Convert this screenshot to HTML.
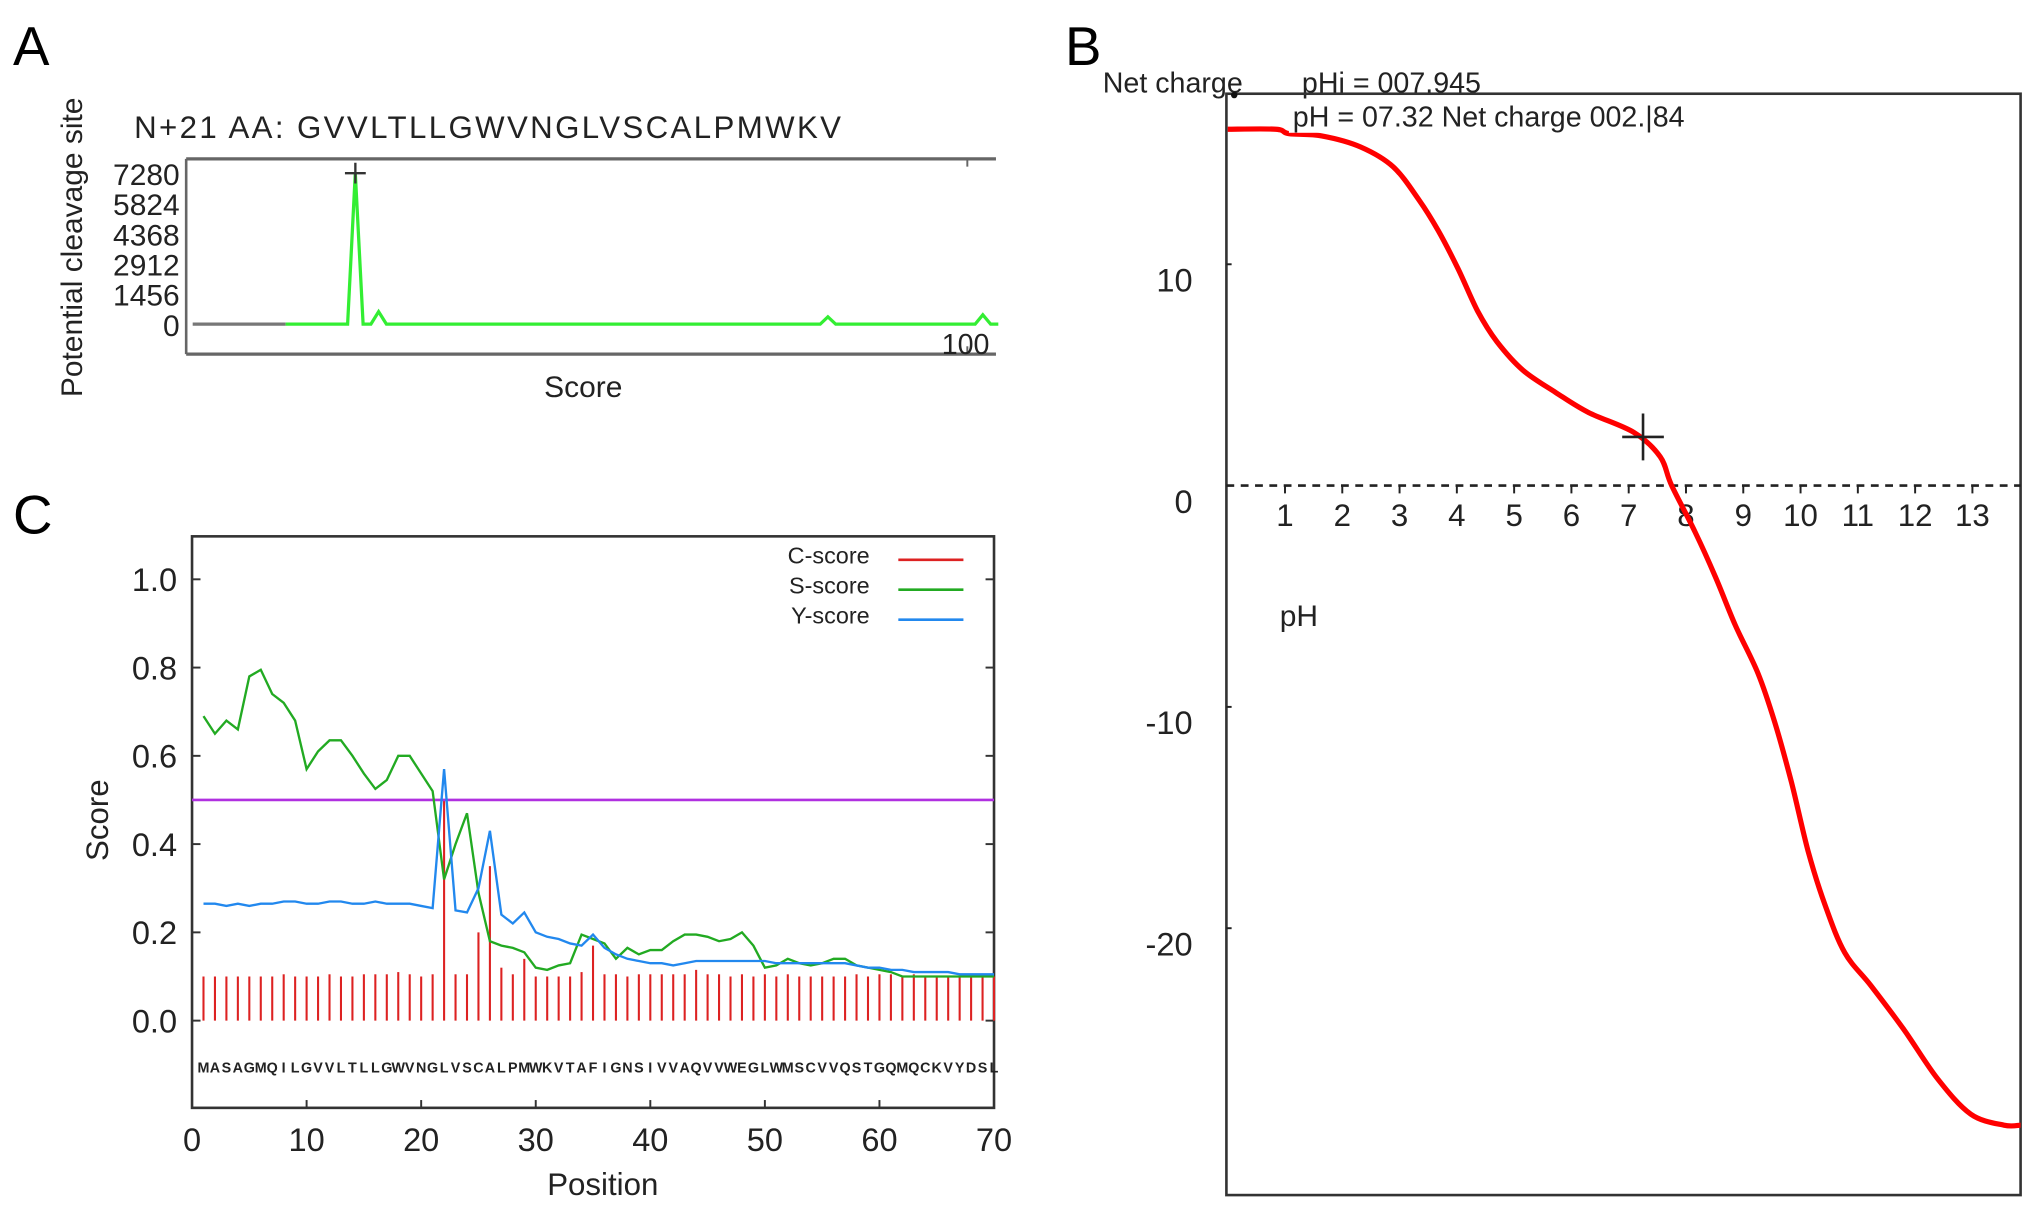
<!DOCTYPE html>
<html><head><meta charset="utf-8"><style>
html,body{margin:0;padding:0;background:#fff;}
svg{display:block;font-family:"Liberation Sans",Arial,sans-serif;}
</style></head><body>
<svg id="fig" width="2031" height="1212" viewBox="0 0 1560 931" preserveAspectRatio="none" xmlns="http://www.w3.org/2000/svg">
<rect x="0" y="0" width="1560" height="931" fill="#fff"/>
<g>
<text x="10" y="50" font-size="42">A</text>
<text x="103" y="106" font-size="24" fill="#222" textLength="543">N+21 AA: GVVLTLLGWVNGLVSCALPMWKV</text>
<text transform="translate(63,190) rotate(-90)" text-anchor="middle" font-size="23" fill="#222">Potential cleavage site</text>
<text x="448" y="305" text-anchor="middle" font-size="23" fill="#222">Score</text>
<line x1="143" y1="122" x2="765" y2="122" stroke="#666" stroke-width="2.5"/>
<line x1="143" y1="272" x2="765" y2="272" stroke="#666" stroke-width="2.5"/>
<line x1="143" y1="122" x2="143" y2="272" stroke="#666" stroke-width="2"/>
<line x1="743" y1="122" x2="743" y2="128" stroke="#666" stroke-width="1.5"/>
<line x1="743" y1="266" x2="743" y2="272" stroke="#666" stroke-width="1.5"/>
<text x="760" y="272" text-anchor="end" font-size="22" fill="#222">100</text>
<g id="aG"></g>
</g>
<g>
<text x="818" y="50" font-size="42">B</text>
<text x="847" y="71" font-size="22" fill="#222">Net charge</text>
<text x="1000" y="71" font-size="22" fill="#222">pHi = 007.945</text>
<rect x="942" y="72" width="610" height="846" fill="none" stroke="#333" stroke-width="2"/>
<circle cx="948" cy="73" r="2.5" fill="#111"/>
<g id="bG"></g>
<rect x="990" y="76" width="370" height="26" fill="#fff"/>
<text x="993" y="97" font-size="22" fill="#222">pH = 07.32  Net charge 002.|84</text>
<text x="983" y="481" font-size="23" fill="#222">pH</text>
</g>
<g>
<text x="10" y="410" font-size="42">C</text>
<rect x="147.5" y="412" width="616" height="439" fill="none" stroke="#333" stroke-width="2"/>
<text transform="translate(83,630) rotate(-90)" text-anchor="middle" font-size="24" fill="#222">Score</text>
<text x="463" y="918" text-anchor="middle" font-size="24" fill="#222">Position</text>
<g id="cG"></g>
</g>
</svg>
<script>
const aPositions = [12,20,21,22,23,24,25,81,82,83,101,102,103,104];
const aScores = [0,0,7280,0,0,600,0,0,350,0,0,450,0,0];
const aTickLabels = [7280,5824,4368,2912,1456,0];
const aPeakPos = [21];
const aPeakVal = [7280];
const bPH = [0,0.84,1.07,1.64,2.32,2.89,3.34,3.68,4.02,4.36,4.7,5.16,5.73,6.3,7.09,7.55,7.75,8.16,8.51,8.86,9.26,9.55,9.84,10.13,10.42,10.77,11.23,11.81,12.39,12.97,13.55,13.84];
const bCharge = [16.1,16.1,15.9,15.8,15.3,14.4,12.9,11.5,9.8,7.9,6.5,5.2,4.2,3.3,2.4,1.3,0,-2.1,-4.1,-6.3,-8.5,-10.7,-13.4,-16.5,-18.9,-21.1,-22.6,-24.6,-26.8,-28.4,-28.9,-28.9];
const bYTicks = [10,0,-10,-20];
const bXTicks = [1,2,3,4,5,6,7,8,9,10,11,12,13];
const bMarkerPH = [7.25];
const bMarkerCharge = [2.2];
const cSequence = "MASAGMQILGVVLTLLGWVNGLVSCALPMWKVTAFIGNSIVVAQVVWEGLWMSCVVQSTGQMQCKVYDSL";
const cScore = [0.10,0.10,0.10,0.10,0.10,0.10,0.10,0.105,0.10,0.10,0.10,0.105,0.10,0.10,0.105,0.105,0.105,0.11,0.105,0.10,0.105,0.50,0.105,0.105,0.20,0.35,0.12,0.105,0.14,0.10,0.10,0.10,0.10,0.11,0.17,0.105,0.105,0.10,0.105,0.105,0.105,0.105,0.105,0.115,0.105,0.105,0.10,0.105,0.10,0.105,0.10,0.105,0.10,0.10,0.10,0.10,0.10,0.105,0.10,0.105,0.105,0.10,0.105,0.10,0.10,0.10,0.10,0.10,0.10,0.10];
const sScore = [0.69,0.65,0.68,0.66,0.78,0.795,0.74,0.72,0.68,0.57,0.61,0.635,0.635,0.60,0.56,0.525,0.545,0.60,0.60,0.56,0.52,0.32,0.40,0.47,0.29,0.18,0.17,0.165,0.155,0.12,0.115,0.125,0.13,0.195,0.185,0.175,0.14,0.165,0.15,0.16,0.16,0.18,0.195,0.195,0.19,0.18,0.185,0.20,0.17,0.12,0.125,0.14,0.13,0.125,0.13,0.14,0.14,0.125,0.12,0.115,0.11,0.10,0.10,0.10,0.10,0.10,0.10,0.10,0.10,0.10];
const yScore = [0.265,0.265,0.26,0.265,0.26,0.265,0.265,0.27,0.27,0.265,0.265,0.27,0.27,0.265,0.265,0.27,0.265,0.265,0.265,0.26,0.255,0.57,0.25,0.245,0.30,0.43,0.24,0.22,0.245,0.20,0.19,0.185,0.175,0.17,0.195,0.165,0.15,0.14,0.135,0.13,0.13,0.125,0.13,0.135,0.135,0.135,0.135,0.135,0.135,0.135,0.13,0.13,0.13,0.13,0.13,0.13,0.13,0.125,0.12,0.12,0.115,0.115,0.11,0.11,0.11,0.11,0.105,0.105,0.105,0.105];
const cYTicks = [0.0,0.2,0.4,0.6,0.8,1.0];
const cXTicks = [0,10,20,30,40,50,60,70];
const cThreshold = [0.5];
const cLegendNames = ["C-score","S-score","Y-score"];

const NS = "http://www.w3.org/2000/svg";
function mk(parent, tag, attrs, text) {
  const el = document.createElementNS(NS, tag);
  for (const k in attrs) el.setAttribute(k, attrs[k]);
  if (text !== undefined) el.textContent = text;
  parent.appendChild(el);
  return el;
}
function smoothPath(pts) {
  let d = 'M' + pts[0][0].toFixed(1) + ',' + pts[0][1].toFixed(1);
  for (let i = 0; i < pts.length - 1; i++) {
    const p0 = pts[Math.max(0, i - 1)], p1 = pts[i], p2 = pts[i + 1], p3 = pts[Math.min(pts.length - 1, i + 2)];
    const c1x = p1[0] + (p2[0] - p0[0]) / 6, c1y = p1[1] + (p2[1] - p0[1]) / 6;
    const c2x = p2[0] - (p3[0] - p1[0]) / 6, c2y = p2[1] - (p3[1] - p1[1]) / 6;
    d += `C${c1x.toFixed(1)},${c1y.toFixed(1)} ${c2x.toFixed(1)},${c2y.toFixed(1)} ${p2[0].toFixed(1)},${p2[1].toFixed(1)}`;
  }
  return d;
}

const xA = i => 148 + i * 5.95;
const yA = v => 249 - v * (249 - 133) / 7280;
const aG = document.getElementById('aG');
aTickLabels.forEach(t => {
  const el = mk(aG, 'text', {x: 138, y: yA(t) + 9, 'text-anchor': 'end', 'font-size': 23, fill: '#222'}, String(t));
  
  
});
{
  const base = mk(aG, 'line', {x1: 148, y1: yA(0), x2: xA(aPositions[0]), y2: yA(0), stroke: '#777', 'stroke-width': 2.5});
  
  
  const pts = aPositions.map((p, i) => xA(p).toFixed(1) + ',' + yA(aScores[i]).toFixed(1)).join(' ');
  const pl = mk(aG, 'polyline', {points: pts + ' 765,' + yA(0), fill: 'none', stroke: '#33ee33', 'stroke-width': 2.5});
  
  
  aPeakPos.forEach((p, i) => {
    const g = mk(aG, 'path', {d: `M${xA(p)-8},${yA(aPeakVal[i])}h16M${xA(p)},${yA(aPeakVal[i])-8}v16`, stroke: '#333', 'stroke-width': 1.8, fill: 'none'});
    
    
  });
}

const xB = p => 943 + 44 * p;
const yB = v => 373 - 17 * v;
const bG = document.getElementById('bG');
{
  const dash = mk(bG, 'line', {x1: 942, y1: yB(0), x2: 1552, y2: yB(0), stroke: '#222', 'stroke-width': 2, 'stroke-dasharray': '6,5'});
  
  
  bYTicks.forEach(t => {
    const tk = mk(bG, 'line', {x1: 942, y1: yB(t), x2: 946, y2: yB(t), stroke: '#222', 'stroke-width': 1.5});
    
    
    const lb = mk(bG, 'text', {x: 916, y: yB(t) + 21, 'text-anchor': 'end', 'font-size': 25, fill: '#222'}, String(t));
    
    
  });
  bXTicks.forEach(t => {
    const tk = mk(bG, 'line', {x1: xB(t), y1: yB(0), x2: xB(t), y2: yB(0) + 6, stroke: '#222', 'stroke-width': 1.5});
    
    
    const lb = mk(bG, 'text', {x: xB(t), y: yB(0) + 31, 'text-anchor': 'middle', 'font-size': 24, fill: '#222'}, String(t));
    
    
  });
  const pts = bPH.map((p, i) => [xB(p), yB(bCharge[i])]);
  const curve = mk(bG, 'path', {d: smoothPath(pts), fill: 'none', stroke: '#ff0000', 'stroke-width': 4, 'stroke-linejoin': 'round'});
  
  
  bMarkerPH.forEach((p, i) => {
    const m = mk(bG, 'path', {d: `M${xB(p)-16},${yB(bMarkerCharge[i])}h32M${xB(p)},${yB(bMarkerCharge[i])-18}v36`, stroke: '#222', 'stroke-width': 2, fill: 'none'});
    
    
  });
}

const xC = p => 147.5 + 8.8 * p;
const yC = v => 784 - 339 * v;
const cG = document.getElementById('cG');
{
  cYTicks.forEach(t => {
    const a = mk(cG, 'line', {x1: 147.5, y1: yC(t), x2: 154, y2: yC(t), stroke: '#333', 'stroke-width': 1.5});
    
    
    const b = mk(cG, 'line', {x1: 757, y1: yC(t), x2: 763.5, y2: yC(t), stroke: '#333', 'stroke-width': 1.5});
    
    
    const lb = mk(cG, 'text', {x: 136, y: yC(t) + 9, 'text-anchor': 'end', 'font-size': 25, fill: '#222'}, t.toFixed(1));
    
    
  });
  cXTicks.forEach(t => {
    const a = mk(cG, 'line', {x1: xC(t), y1: 851, x2: xC(t), y2: 845, stroke: '#333', 'stroke-width': 1.5});
    
    
    const lb = mk(cG, 'text', {x: xC(t), y: 884, 'text-anchor': 'middle', 'font-size': 25, fill: '#222'}, String(t));
    
    
  });
  for (let i = 0; i < cSequence.length; i++) {
    const ch = mk(cG, 'text', {x: xC(i + 1), y: 824, 'text-anchor': 'middle', 'font-size': 11, 'font-weight': 'bold', fill: '#222'}, cSequence[i]);
    
    
  }
  cScore.forEach((v, i) => {
    const bar = mk(cG, 'line', {x1: xC(i + 1), y1: yC(0), x2: xC(i + 1), y2: yC(v), stroke: '#dd2222', 'stroke-width': 1.6});
    
    
  });
  cThreshold.forEach(t => {
    const th = mk(cG, 'line', {x1: 147.5, y1: yC(t), x2: 763.5, y2: yC(t), stroke: '#b030e0', 'stroke-width': 2});
    
    
  });
  const sPts = sScore.map((v, i) => xC(i + 1).toFixed(1) + ',' + yC(v).toFixed(1)).join(' ');
  const sl = mk(cG, 'polyline', {points: sPts, fill: 'none', stroke: '#22aa22', 'stroke-width': 1.8});
  
  
  const yPts = yScore.map((v, i) => xC(i + 1).toFixed(1) + ',' + yC(v).toFixed(1)).join(' ');
  const yl = mk(cG, 'polyline', {points: yPts, fill: 'none', stroke: '#2288ee', 'stroke-width': 1.8});
  
  
  const legendColors = ['#dd2222', '#22aa22', '#2288ee'];
  cLegendNames.forEach((n, i) => {
    const ly = 427 + i * 23;
    const t = mk(cG, 'text', {x: 668, y: ly + 6, 'text-anchor': 'end', 'font-size': 18, fill: '#222'}, n);
    
    
    const l = mk(cG, 'line', {x1: 690, y1: ly + 3, x2: 740, y2: ly + 3, stroke: legendColors[i], 'stroke-width': 2});
    
    
  });
}
</script>
</body></html>
